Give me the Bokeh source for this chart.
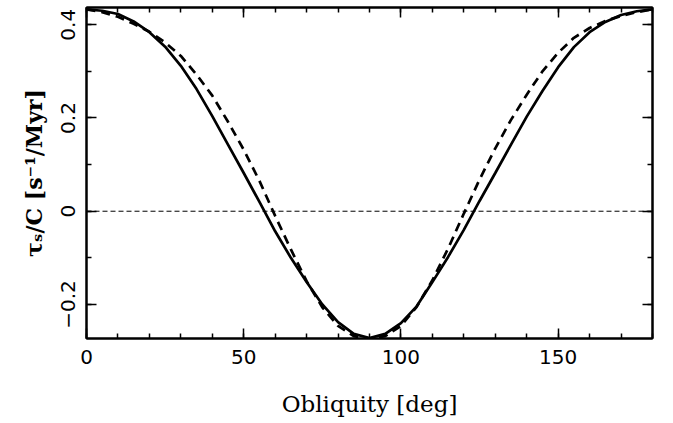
from bokeh.plotting import figure
from bokeh.models import Range1d, FixedTicker, LinearAxis, Span
from bokeh.embed import file_html
from bokeh.resources import INLINE

# ---- data ----
obliquity = list(range(0, 181, 5))
torque_solid = [0.433, 0.430, 0.423, 0.407, 0.384, 0.353, 0.312, 0.262, 0.204, 0.143,
                0.082, 0.020, -0.043, -0.100, -0.152, -0.200, -0.238, -0.263, -0.272,
                -0.263, -0.240, -0.204, -0.152, -0.098, -0.040, 0.022, 0.082, 0.143,
                0.203, 0.258, 0.309, 0.352, 0.384, 0.406, 0.421, 0.429, 0.433]
torque_dashed = [0.433, 0.427, 0.417, 0.402, 0.385, 0.362, 0.333, 0.293, 0.248, 0.192,
                 0.132, 0.065, -0.010, -0.082, -0.150, -0.206, -0.246, -0.268, -0.273,
                 -0.268, -0.246, -0.205, -0.148, -0.080, -0.005, 0.068, 0.135, 0.196,
                 0.250, 0.300, 0.340, 0.372, 0.393, 0.408, 0.419, 0.427, 0.433]
zero_level = 0.0

x_major_ticks = [0, 50, 100, 150]
x_minor_ticks = list(range(0, 181, 10))
x_tick_labels = ["0", "50", "100", "150"]
y_major_ticks = [-0.2, 0.0, 0.2, 0.4]
y_minor_ticks = [-0.2, -0.1, 0.0, 0.1, 0.2, 0.3, 0.4]
y_tick_labels = ["\u22120.2", "0", "0.2", "0.4"]

x_label = "Obliquity [deg]"
y_label = "\u03c4\u209b/C [s\u207b\u00b9/Myr]"

# ---- figure ----
p = figure(width=673, height=423, output_backend="svg", toolbar_location=None,
           x_range=Range1d(0, 180), y_range=Range1d(-0.273, 0.437),
           min_border_left=86, min_border_right=21, min_border_top=7,
           min_border_bottom=85)
p.xaxis.axis_label = x_label
p.yaxis.axis_label = y_label
p.xgrid.visible = False
p.ygrid.visible = False
p.background_fill_color = "white"
p.border_fill_color = "white"
p.outline_line_color = "black"
p.outline_line_width = 2

xt = FixedTicker(ticks=x_major_ticks, minor_ticks=x_minor_ticks)
yt = FixedTicker(ticks=y_major_ticks, minor_ticks=y_minor_ticks)


def style(ax):
    ax.axis_line_color = "black"
    ax.axis_line_width = 2
    ax.major_tick_in = 10
    ax.major_tick_out = 0
    ax.minor_tick_in = 5
    ax.minor_tick_out = 0
    ax.major_tick_line_color = "black"
    ax.minor_tick_line_color = "black"
    ax.major_tick_line_width = 1.5
    ax.minor_tick_line_width = 1.5
    ax.major_label_text_font = "DejaVu Sans"
    ax.major_label_text_font_size = "20px"
    ax.major_label_text_color = "#000000"
    ax.axis_label_text_font = "DejaVu Serif"
    ax.axis_label_text_font_size = "23px"
    ax.axis_label_text_font_style = "normal"
    ax.axis_label_text_color = "#000000"


xa = p.xaxis[0]
ya = p.yaxis[0]
xa.ticker = xt
ya.ticker = yt
style(xa)
style(ya)
xa.major_label_overrides = dict(zip(x_major_ticks, x_tick_labels))
ya.major_label_overrides = dict(zip(y_major_ticks, y_tick_labels))
ya.major_label_orientation = "vertical"
ya.axis_label_text_font_style = "bold"
ya.axis_label_text_font_size = "22px"
xa.major_label_standoff = 11
ya.major_label_standoff = 11
xa.axis_label_standoff = 24
ya.axis_label_standoff = 12

top = LinearAxis(ticker=xt)
right = LinearAxis(ticker=yt)
for ax in (top, right):
    style(ax)
    ax.major_label_text_color = None
    ax.major_label_text_font_size = "1px"
    ax.major_label_standoff = 0
p.add_layout(top, "above")
p.add_layout(right, "right")

p.add_layout(Span(location=zero_level, dimension="width", line_color="black",
                  line_width=1, line_dash="5 3"))

p.line(obliquity, torque_solid, line_color="black", line_width=2.7)
p.line(obliquity, torque_dashed, line_color="black", line_width=2.7, line_dash="9 6")

open("out.html", "w").write(file_html(p, INLINE))
